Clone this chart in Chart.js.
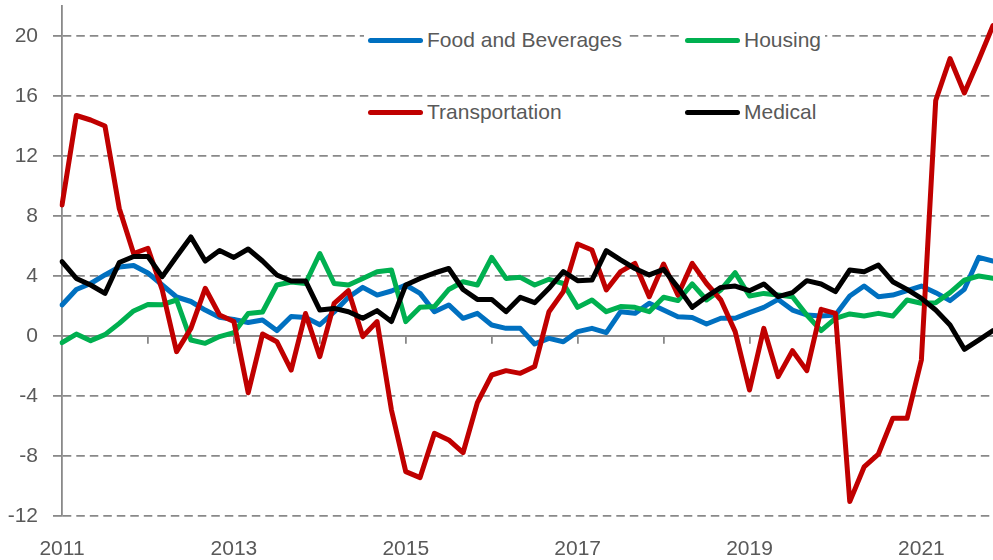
<!DOCTYPE html>
<html>
<head>
<meta charset="utf-8">
<script src="https://cdn.jsdelivr.net/npm/chart.js@4.4.1/dist/chart.umd.min.js"></script>
<style>
  html,body{margin:0;padding:0;background:#fff;}
  #wrap{position:relative;width:993px;height:560px;}
  #legend{position:absolute;left:0;top:0;font:21px "Liberation Sans",Arial,sans-serif;color:#595959;}
  .item{position:absolute;display:flex;align-items:center;background:#fff;height:26px;padding:0 4px;white-space:nowrap;}
  .swatch{display:inline-block;width:55px;height:5px;border-radius:3px;margin-right:4px;}
</style>
</head>
<body>
<div id="wrap"><canvas id="c" width="993" height="560"></canvas><div id="legend"></div></div>
<script>
'use strict';

// bimonthly periods, Jan 2011 .. Nov 2021
const periods = [
  '2011-01','2011-03','2011-05','2011-07','2011-09','2011-11',
  '2012-01','2012-03','2012-05','2012-07','2012-09','2012-11',
  '2013-01','2013-03','2013-05','2013-07','2013-09','2013-11',
  '2014-01','2014-03','2014-05','2014-07','2014-09','2014-11',
  '2015-01','2015-03','2015-05','2015-07','2015-09','2015-11',
  '2016-01','2016-03','2016-05','2016-07','2016-09','2016-11',
  '2017-01','2017-03','2017-05','2017-07','2017-09','2017-11',
  '2018-01','2018-03','2018-05','2018-07','2018-09','2018-11',
  '2019-01','2019-03','2019-05','2019-07','2019-09','2019-11',
  '2020-01','2020-03','2020-05','2020-07','2020-09','2020-11',
  '2021-01','2021-03','2021-05','2021-07','2021-09','2021-11'
];
const yearLabels = ['2011','2013','2015','2017','2019','2021'];
const yTicks = [-12, -8, -4, 0, 4, 8, 12, 16, 20];

const food = [
  2.07, 3.1, 3.5, 4.07, 4.6, 4.7,
  4.2, 3.4, 2.6, 2.3, 1.73, 1.24,
  1.1, 0.9, 1.07, 0.36, 1.3, 1.24,
  0.75, 1.6, 2.58, 3.24, 2.73, 3.0,
  3.4, 2.84, 1.62, 2.07, 1.18, 1.51,
  0.73, 0.51, 0.51, -0.53, -0.16, -0.38,
  0.29, 0.51, 0.22, 1.62, 1.51, 2.18,
  1.73, 1.29, 1.24, 0.8, 1.18, 1.18,
  1.56, 1.91, 2.44, 1.73, 1.4, 1.33,
  1.4, 2.67, 3.33, 2.62, 2.73, 3.02,
  3.33, 2.89, 2.36, 3.11, 5.24, 5.0
];
const housing = [
  -0.44, 0.13, -0.31, 0.09, 0.84, 1.67,
  2.1, 2.09, 2.4, -0.27, -0.49, -0.04,
  0.22, 1.5, 1.6, 3.4, 3.6, 3.5,
  5.5, 3.5, 3.4, 3.84, 4.29, 4.4,
  0.96, 1.91, 1.96, 3.1, 3.62, 3.4,
  5.24, 3.84, 3.91, 3.4, 3.78, 3.5,
  1.91, 2.4, 1.62, 1.96, 1.91, 1.62,
  2.58, 2.36, 3.47, 2.4, 3.07, 4.22,
  2.67, 2.84, 2.73, 2.62, 1.4, 0.36,
  1.18, 1.47, 1.33, 1.51, 1.33, 2.4,
  2.18, 2.22, 2.89, 3.73, 4.0, 3.84
];
const transportation = [
  8.73, 14.7, 14.4, 14.0, 8.5, 5.5,
  5.85, 3.07, -1.04, 0.51, 3.18, 1.4,
  0.96, -3.78, 0.13, -0.38, -2.27, 1.5,
  -1.38, 2.18, 3.02, -0.04, 0.96, -4.93,
  -9.04, -9.44, -6.49, -6.93, -7.78, -4.44,
  -2.6, -2.31, -2.49, -2.04, 1.62, 2.96,
  6.13, 5.73, 3.07, 4.29, 4.84, 2.62,
  4.8, 2.73, 4.84, 3.5, 2.4, 0.29,
  -3.6, 0.51, -2.71, -0.98, -2.31, 1.78,
  1.51, -11.04, -8.73, -7.87, -5.49, -5.49,
  -1.6, 15.7, 18.5, 16.2, 18.4, 20.7
];
const medical = [
  4.96, 3.84, 3.4, 2.84, 4.9, 5.3,
  5.3, 3.96, 5.3, 6.6, 5.0, 5.7,
  5.24, 5.8, 5.0, 4.07, 3.67, 3.67,
  1.73, 1.84, 1.62, 1.18, 1.69, 0.96,
  3.4, 3.84, 4.2, 4.5, 3.1, 2.44,
  2.44, 1.62, 2.58, 2.22, 3.18, 4.3,
  3.69, 3.73, 5.69, 5.07, 4.5, 4.07,
  4.44, 3.24, 1.91, 2.62, 3.24, 3.33,
  3.02, 3.47, 2.62, 2.89, 3.69, 3.47,
  2.96, 4.4, 4.29, 4.73, 3.62, 3.11,
  2.51, 1.73, 0.73, -0.89, -0.27, 0.36
];

const GRID = '#898989';
const TEXT = '#595959';
const FONT = {family: '"Liberation Sans", Arial, sans-serif', size: 21};

function line(label, data, color, order){
  return {label, data, borderColor: color, backgroundColor: color, borderWidth: 5,
    pointRadius: 0, tension: 0, borderJoinStyle: 'round', borderCapStyle: 'round', order};
}

const chart = new Chart(document.getElementById('c'), {
  type: 'line',
  data: {
    labels: periods,
    datasets: [
      line('Food and Beverages', food, '#0070C0', 4),
      line('Housing', housing, '#00B050', 3),
      line('Transportation', transportation, '#C00000', 2),
      line('Medical', medical, '#000000', 1)
    ]
  },
  options: {
    responsive: false,
    animation: false,
    devicePixelRatio: 1,
    layout: {padding: {top: 6, right: 0, left: 0, bottom: 0}},
    plugins: {legend: {display: false}, tooltip: {enabled: false}},
    scales: {
      x: {
        type: 'category',
        position: 'bottom',
        grid: {display: false, drawTicks: false},
        border: {display: false},
        ticks: {
          autoSkip: false, maxRotation: 0, minRotation: 0, padding: 21,
          color: TEXT, font: FONT,
          callback: function(v, i){
            const p = periods[i];
            return (p.endsWith('-01') && yearLabels.includes(p.slice(0, 4))) ? p.slice(0, 4) : null;
          }
        },
        afterFit: s => { s.height = 44; s.paddingLeft = 0; s.paddingRight = 0; }
      },
      x2: {
        type: 'category',
        position: {y: 0},
        grid: {drawOnChartArea: false, drawTicks: true, tickLength: 7, color: GRID, lineWidth: 1.8},
        border: {display: true, color: GRID, width: 1.8},
        ticks: {
          autoSkip: false, maxRotation: 0, minRotation: 0, padding: 0,
          font: {size: 1},
          callback: (v, i) => periods[i].endsWith('-01') ? '' : null
        },
        afterFit: s => { s.paddingLeft = 0; s.paddingRight = 0; s.paddingTop = 0; s.paddingBottom = 0; }
      },
      y: {
        min: -12, max: 22,
        afterBuildTicks: s => { s.ticks = yTicks.map(v => ({value: v})); },
        grid: {color: GRID, lineWidth: 1.8, tickLength: 9, tickColor: GRID},
        border: {display: true, color: GRID, width: 1.8,
          dash: c => (c.tick && c.tick.value === 0) ? [] : [8.5, 5]},
        ticks: {color: TEXT, font: FONT, padding: 15},
        afterFit: s => { s.width = 62; s.paddingTop = 0; s.paddingBottom = 0; }
      }
    }
  }
});

// legend laid out in two rows like the original
const legendSpots = [[364, 27], [681, 27], [364, 99], [681, 99]];
const legendOrder = ['Food and Beverages', 'Housing', 'Transportation', 'Medical'];
const lg = document.getElementById('legend');
legendOrder.forEach((name, k) => {
  const ds = chart.data.datasets.find(d => d.label === name);
  const it = document.createElement('div');
  it.className = 'item';
  it.style.left = legendSpots[k][0] + 'px';
  it.style.top = legendSpots[k][1] + 'px';
  const sw = document.createElement('span');
  sw.className = 'swatch';
  sw.style.background = ds.borderColor;
  it.appendChild(sw);
  it.appendChild(document.createTextNode(ds.label));
  lg.appendChild(it);
});
</script>
</body>
</html>
